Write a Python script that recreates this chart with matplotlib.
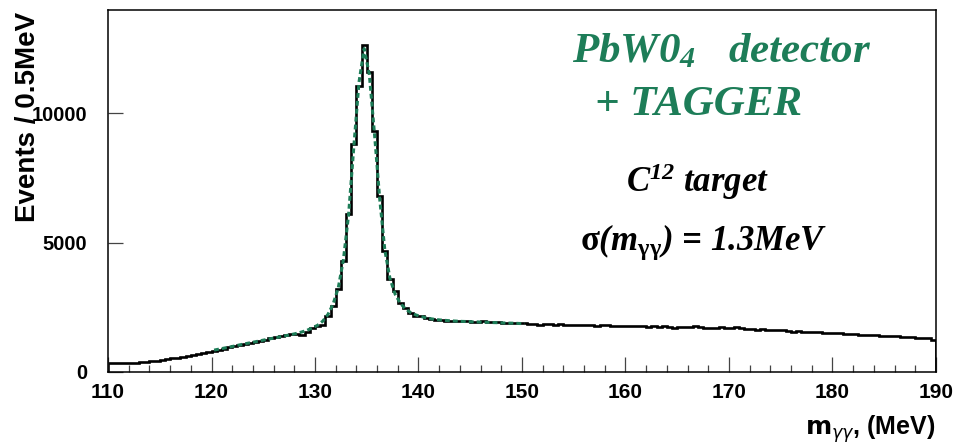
import numpy as np
import matplotlib
matplotlib.use("Agg")
import matplotlib.pyplot as plt

# ---- data ----
M_MIN, M_MAX, BIN_W = 110.0, 190.0, 0.5

counts = [
    # 110 - 119.5
    360, 350, 345, 350, 345, 355, 375, 390, 420, 430,
    460, 480, 530, 540, 580, 620, 660, 700, 740, 780,
    # 120 - 129.5
    820, 860, 900, 950, 990, 1040, 1080, 1120, 1160, 1200,
    1250, 1290, 1330, 1370, 1410, 1450, 1480, 1430, 1560, 1690,
    # 130 - 139.5
    1760, 1820, 2170, 2530, 3200, 4300, 6120, 8800, 11060, 12640,
    11600, 9310, 6800, 4660, 3600, 3110, 2660, 2470, 2280, 2170,
    # 140 - 149.5
    2150, 2100, 2040, 2010, 1990, 1980, 1960, 1970, 1950, 1960,
    1940, 1930, 1950, 1920, 1910, 1930, 1900, 1890, 1900, 1880,
    # 150 - 159.5
    1870, 1850, 1860, 1820, 1860, 1850, 1810, 1840, 1830, 1820,
    1830, 1810, 1800, 1820, 1790, 1800, 1810, 1780, 1790, 1770,
    # 160 - 169.5
    1790, 1760, 1780, 1770, 1750, 1760, 1740, 1760, 1730, 1700,
    1740, 1720, 1740, 1760, 1730, 1710, 1690, 1680, 1720, 1680,
    # 170 - 179.5
    1690, 1720, 1680, 1660, 1650, 1610, 1640, 1610, 1630, 1620,
    1600, 1590, 1560, 1580, 1550, 1560, 1530, 1540, 1520, 1510,
    # 180 - 189.5
    1490, 1500, 1470, 1450, 1460, 1430, 1420, 1440, 1410, 1400,
    1390, 1380, 1370, 1360, 1340, 1330, 1320, 1300, 1290, 1250,
]

# fit curve, evaluated at bin centres starting at 120.25 MeV
FIT_FIRST_BIN = 20
fit_vals = [
    840, 880, 920, 960, 1000, 1045, 1085, 1125, 1165, 1205,
    1245, 1285, 1325, 1365, 1405, 1445, 1490, 1545, 1610, 1700,
    1800, 1960, 2220, 2620, 3250, 4350, 6100, 8700, 11200, 12500,
    11500, 9200, 6700, 4700, 3600, 3000, 2650, 2430, 2290, 2200,
    2140, 2090, 2050, 2020, 2000, 1985, 1970, 1960, 1950, 1945,
    1935, 1930, 1920, 1915, 1905, 1900, 1890, 1885, 1880, 1870,
    1865,
]

x_ticks = [110, 120, 130, 140, 150, 160, 170, 180, 190]
y_ticks = [0, 5000, 10000]

GREEN = "#1d7d58"

# ---- fonts ----
plt.rcParams["font.family"] = ["Liberation Sans", "DejaVu Sans"]
plt.rcParams["mathtext.fontset"] = "custom"
plt.rcParams["mathtext.rm"] = "Liberation Serif:bold:italic"
plt.rcParams["mathtext.it"] = "Liberation Serif:bold:italic"
plt.rcParams["mathtext.bf"] = "Liberation Serif:bold:italic"
plt.rcParams["mathtext.sf"] = "Liberation Serif:bold"   # upright greek

edges = np.arange(len(counts) + 1) * BIN_W + M_MIN
centres = edges[:-1] + BIN_W / 2
fit_x = centres[FIT_FIRST_BIN:FIT_FIRST_BIN + len(fit_vals)]

fig = plt.figure(figsize=(9.56, 4.48), dpi=100)
ax = fig.add_axes([0.113, 0.170, 0.866, 0.808])

ax.stairs(counts, edges, baseline=0, color="black", lw=1.9)
ax.plot(fit_x, fit_vals, color=GREEN, lw=2.2, linestyle=(0, (1.6, 1.0)))

ax.set_xlim(M_MIN, M_MAX)
ax.set_ylim(0, 14000)
ax.set_xticks(x_ticks)
ax.set_xticks(np.arange(M_MIN, M_MAX + 0.1, 2), minor=True)
ax.set_yticks(y_ticks)
ax.tick_params(axis="both", which="both", direction="in", top=False, right=False, color="#444444")
ax.tick_params(axis="x", which="major", length=11, width=0.9, pad=8, labelsize=15)
ax.tick_params(axis="x", which="minor", length=5, width=0.9)
ax.tick_params(axis="y", which="major", length=11, width=0.9, pad=15, labelsize=14.5)
for lab in ax.get_xticklabels() + ax.get_yticklabels():
    lab.set_fontweight("bold")
for sp in ax.spines.values():
    sp.set_linewidth(1.1)

fig.text(0.0157, 0.973, "Events / 0.5MeV", rotation=90, ha="left", va="top",
         fontsize=20, fontweight="bold")
fig.text(0.978, 0.029, r"$\mathbf{m}_{\gamma\gamma}$, (MeV)", ha="right", va="baseline",
         fontsize=18, fontweight="bold", math_fontfamily="dejavusans")

serif = dict(family="Liberation Serif", fontweight="bold", style="italic", va="baseline")
ax.text(0.560, 0.854, r"PbW0${}_4$   detector", transform=ax.transAxes, color=GREEN,
        fontsize=31, **serif)
ax.text(0.588, 0.710, "+ TAGGER", transform=ax.transAxes, color=GREEN, fontsize=31, **serif)
ax.text(0.626, 0.497, r"C${}^{12}$ target", transform=ax.transAxes, color="black",
        fontsize=25, **serif)
ax.text(0.570, 0.337, r"$\mathsf{\sigma}$(m${}_{\mathsf{\gamma\gamma}}$) = 1.3MeV",
        transform=ax.transAxes, color="black", fontsize=25, **serif)

fig.savefig("out.png", dpi=100)
